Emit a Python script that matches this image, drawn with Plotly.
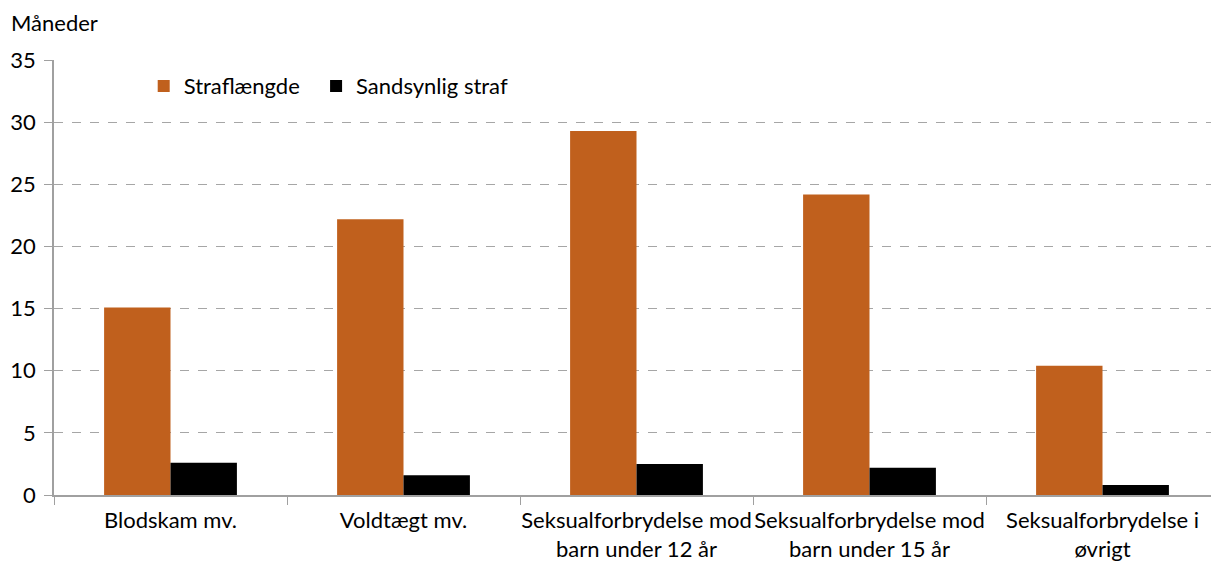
import plotly.graph_objects as go

categories = [
    "Blodskam mv.",
    "Voldtægt mv.",
    "Seksualforbrydelse mod<br>barn under 12 år",
    "Seksualforbrydelse mod<br>barn under 15 år",
    "Seksualforbrydelse i<br>øvrigt",
]
straflaengde = [15.1, 22.2, 29.3, 24.2, 10.4]
sandsynlig_straf = [2.6, 1.6, 2.5, 2.2, 0.8]
y_ticks = [0, 5, 10, 15, 20, 25, 30, 35]

FONT = "Lato"
FS = 22

fig = go.Figure()
# trailing nbsp's widen the first legend entry so the second one lands further right
fig.add_trace(go.Bar(x=categories, y=straflaengde, name="Straflængde\u00a0\u00a0",
                     marker=dict(color="#C0601D", line=dict(width=0))))
fig.add_trace(go.Bar(x=categories, y=sandsynlig_straf, name="Sandsynlig straf",
                     marker=dict(color="#000000", line=dict(width=0))))

# page body has an 8px margin, so the figure is a bit smaller than the window
fig.update_layout(
    width=1211, height=557,
    margin=dict(l=46, r=0, t=52, b=70, autoexpand=False),
    plot_bgcolor="white", paper_bgcolor="white",
    font=dict(family=FONT, size=FS, color="#000000"),
    barmode="group", bargap=0.43, bargroupgap=0,
    showlegend=True,
    legend=dict(orientation="h", x=0.077, y=0.94, xanchor="left", yanchor="middle",
                font=dict(size=FS), tracegroupgap=0,
                bgcolor="rgba(0,0,0,0)"),
    annotations=[dict(text="Måneder", xref="paper", yref="paper", x=-0.039, y=1.087,
                      xanchor="left", yanchor="middle", showarrow=False,
                      font=dict(size=FS))],
)
fig.update_xaxes(showline=True, linecolor="#a0a0a0", linewidth=1.5,
                 ticks="outside", tickcolor="#a0a0a0", ticklen=8,
                 tickson="boundaries", showgrid=False, tickfont=dict(size=FS),
                 tickangle=0, ticklabelstandoff=5, automargin=False)
fig.update_yaxes(range=[0, 35.02], tickvals=y_ticks, showline=True, linecolor="#a0a0a0",
                 linewidth=1.5, ticks="outside", tickcolor="#a0a0a0", ticklen=8,
                 showgrid=True, gridcolor="#a6a6a6", griddash="dash", gridwidth=1,
                 zeroline=False, tickfont=dict(size=FS), ticklabelstandoff=4,
                 automargin=False)

fig.write_html("out.html")
